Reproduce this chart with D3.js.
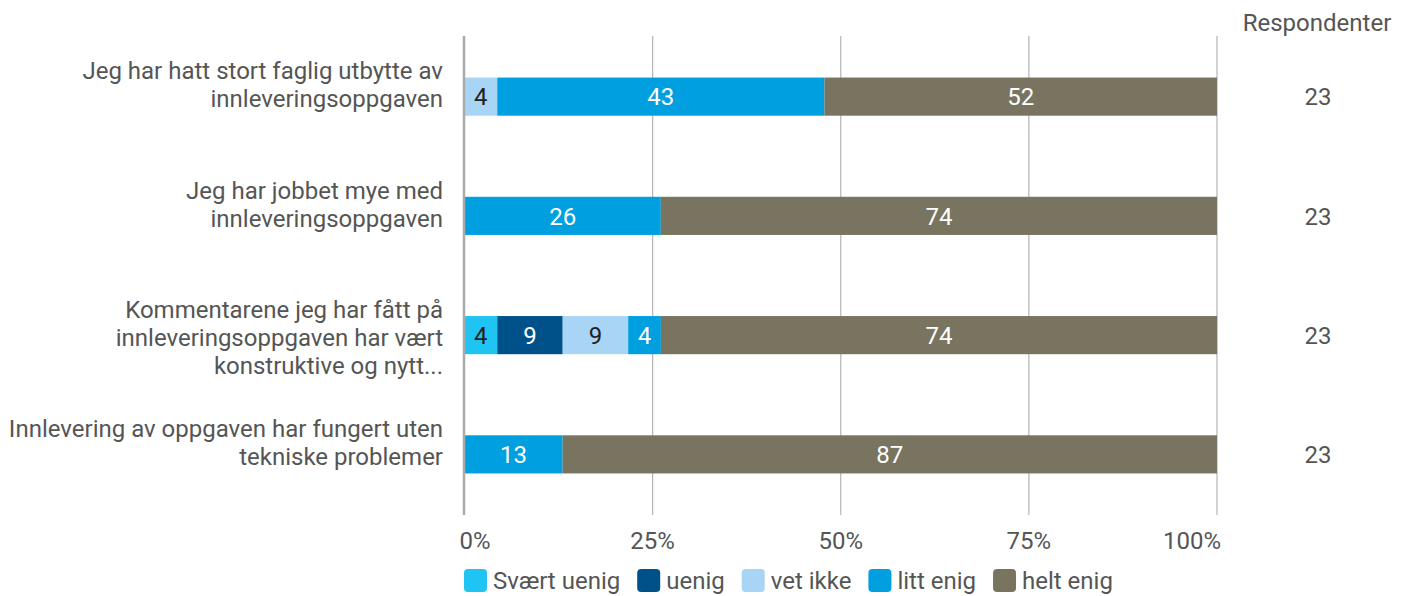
<!DOCTYPE html>
<html>
<head>
<meta charset="utf-8">
<script src="https://cdn.jsdelivr.net/npm/d3@7"></script>
<style>
  body { margin: 0; background: #fff; }
  svg { font-family: Roboto, sans-serif; }
</style>
</head>
<body>
<svg id="chart"></svg>
<script>
// data
let categories = [
  ["Jeg har hatt stort faglig utbytte av", "innleveringsoppgaven"],
  ["Jeg har jobbet mye med", "innleveringsoppgaven"],
  ["Kommentarene jeg har fått på", "innleveringsoppgaven har vært", "konstruktive og nytt..."],
  ["Innlevering av oppgaven har fungert uten", "tekniske problemer"]
];
let seriesNames = ["Svært uenig", "uenig", "vet ikke", "litt enig", "helt enig"];
let seriesColors = ["#20c4f2", "#00518a", "#a8d5f5", "#009fe0", "#78745f"];
let labelColors = ["#222", "#fff", "#222", "#fff", "#fff"];
// percent per row, in series order
let svaertUenig = [0, 0, 4.35, 0];
let uenig = [0, 0, 8.7, 0];
let vetIkke = [4.35, 0, 8.7, 0];
let littEnig = [43.48, 26.09, 4.35, 13.04];
let heltEnig = [52.17, 73.91, 73.91, 86.96];
let respondents = [23, 23, 23, 23];
let tickValues = [0, 25, 50, 75, 100];

function makeChart() {
  let w = 1409, h = 596;
  let fs = "24px";
  let svg = d3.select("#chart").attr("width", w).attr("height", h);

  let rows = categories.map((c, i) => ({
    key: i,
    "Svært uenig": svaertUenig[i],
    "uenig": uenig[i],
    "vet ikke": vetIkke[i],
    "litt enig": littEnig[i],
    "helt enig": heltEnig[i]
  }));

  let x = d3.scaleLinear().domain([0, 100]).range([464.5, 1217]);
  let y = d3.scaleBand().domain(d3.range(categories.length))
    .range([37, 514]).paddingInner(0.68).paddingOuter(0.34);
  let color = d3.scaleOrdinal().domain(seriesNames).range(seriesColors);

  // gridlines
  svg.append("g").selectAll("line")
    .data(tickValues.slice(1))
    .enter().append("line")
    .attr("x1", d => x(d)).attr("x2", d => x(d))
    .attr("y1", 36).attr("y2", 515)
    .attr("stroke", "#b4b4b4").attr("stroke-width", 1.2);

  let stacked = d3.stack().keys(seriesNames)(rows);

  let layer = svg.append("g").selectAll("g")
    .data(stacked).enter().append("g")
    .attr("fill", d => color(d.key));

  layer.selectAll("rect")
    .data(d => d.filter(s => s[1] - s[0] > 0))
    .enter().append("rect")
    .attr("x", d => x(d[0]))
    .attr("width", d => x(d[1]) - x(d[0]))
    .attr("y", d => y(d.data.key))
    .attr("height", y.bandwidth());

  stacked.forEach((s, si) => {
    svg.append("g").selectAll("text")
      .data(s.filter(d => d[1] - d[0] > 0))
      .enter().append("text")
      .attr("x", d => (x(d[0]) + x(d[1])) / 2)
      .attr("y", d => y(d.data.key) + y.bandwidth() / 2)
      .attr("dy", "0.36em")
      .attr("text-anchor", "middle")
      .attr("font-size", fs)
      .attr("fill", labelColors[si])
      .text(d => Math.round(d[1] - d[0]));
  });

  // zero axis line
  svg.append("line")
    .attr("x1", 464).attr("x2", 464)
    .attr("y1", 36).attr("y2", 515)
    .attr("stroke", "#aaa").attr("stroke-width", 2.5);

  // x tick labels
  svg.append("g").selectAll("text")
    .data(tickValues).enter().append("text")
    .attr("x", (d, i) => i === 0 ? x(d) - 5 : (i === tickValues.length - 1 ? x(d) + 4 : x(d)))
    .attr("y", 540)
    .attr("dy", "0.36em")
    .attr("text-anchor", (d, i) => i === 0 ? "start" : (i === tickValues.length - 1 ? "end" : "middle"))
    .attr("font-size", fs)
    .attr("fill", "#555")
    .text(d => d + "%");

  // category labels
  let lh = 28;
  let catLabels = svg.append("g").selectAll("text")
    .data(categories).enter().append("text")
    .attr("text-anchor", "end")
    .attr("font-size", fs)
    .attr("fill", "#555");
  catLabels.each(function(lines, i) {
    let cy = y(i) + y.bandwidth() / 2;
    d3.select(this).selectAll("tspan")
      .data(lines).enter().append("tspan")
      .attr("x", 443)
      .attr("y", (l, j) => cy - 26 + j * lh)
      .attr("dy", "0.36em")
      .text(l => l);
  });

  // respondents column
  svg.append("text")
    .attr("x", 1317).attr("y", 22).attr("dy", "0.36em")
    .attr("text-anchor", "middle").attr("font-size", fs).attr("fill", "#555")
    .text("Respondenter");
  svg.append("g").selectAll("text")
    .data(respondents).enter().append("text")
    .attr("x", 1318)
    .attr("y", (d, i) => y(i) + y.bandwidth() / 2)
    .attr("dy", "0.36em")
    .attr("text-anchor", "middle").attr("font-size", fs).attr("fill", "#555")
    .text(d => d);

  // legend
  let lx = 464;
  seriesNames.forEach((name, i) => {
    let g = svg.append("g").attr("transform", `translate(${lx},569)`);
    g.append("rect").attr("width", 23).attr("height", 23).attr("rx", 4)
      .attr("fill", seriesColors[i]);
    let t = g.append("text").attr("x", 29).attr("y", 11.5).attr("dy", "0.36em")
      .attr("font-size", fs).attr("fill", "#555").text(name);
    lx += 29 + t.node().getComputedTextLength() + 17;
  });
}

window.onload = function() {
  makeChart();
};
</script>
</body>
</html>
